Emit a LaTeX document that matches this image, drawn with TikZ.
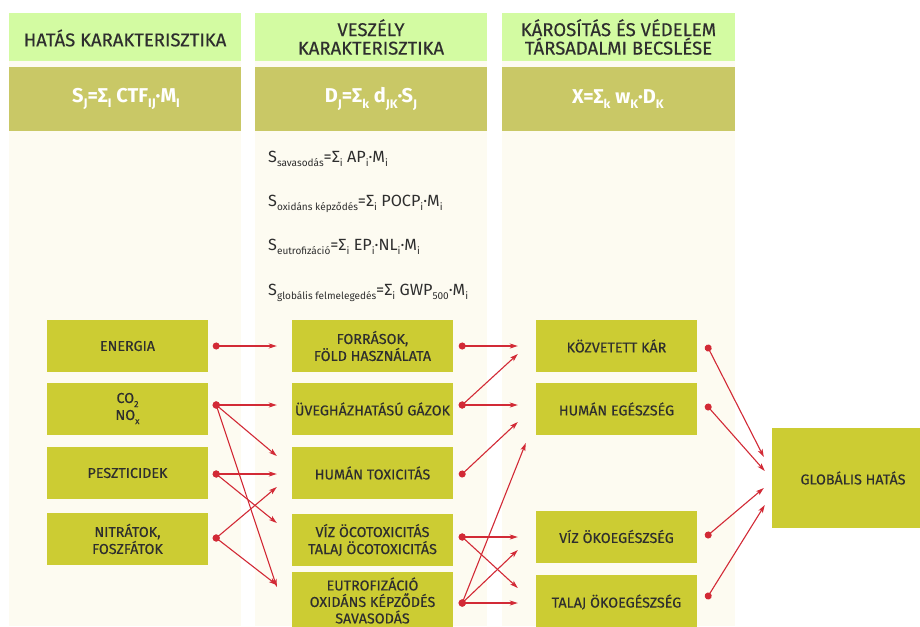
\documentclass[tikz,border=0pt]{standalone}
\usepackage{fontspec}
\setmainfont{Fira Sans}
\newfontfamily\labelfont{Fira Sans}[FakeBold=0.35]
\usetikzlibrary{arrows.meta}

\definecolor{cream}{HTML}{FDFBF1}
\definecolor{headgreen}{HTML}{D3FBA2}
\definecolor{formbox}{HTML}{C9C866}
\definecolor{boxolive}{HTML}{CCCC33}
\definecolor{arrowred}{HTML}{D22A36}
\definecolor{txt}{HTML}{2E2E2E}

% lowered, reduced index text
\newcommand\mysub[1]{\raisebox{-0.55ex}{\scalebox{0.62}{#1}}}

\tikzset{
  colbg/.style={fill=cream, draw=none},
  headbox/.style={fill=headgreen, draw=none},
  formulabox/.style={fill=formbox, draw=none},
  headtext/.style={text=txt, align=center, font=\labelfont\fontsize{18.5}{18.5}\selectfont},
  formulatext/.style={text=white, font=\bfseries\fontsize{20}{22}\selectfont},
  flow/.style={fill=boxolive, draw=none, minimum width=161pt, minimum height=52pt,
    text=txt, align=center, inner sep=0pt, font=\labelfont\fontsize{14.3}{17}\selectfont},
  % the dot is centred on the start point of each connector
  conn/.style={draw=arrowred, line width=1.1pt, shorten <=-3.5pt,
    {Circle[length=7pt]}-{Stealth[length=8pt,width=5pt,inset=2pt]}},
  eqline/.style={anchor=base west, text=txt, inner sep=0pt, font=\fontsize{16.2}{18}\selectfont},
}

\begin{document}
\begin{tikzpicture}[x=1pt,y=-1pt]
\useasboundingbox (0,0) rectangle (920,626);
\fill[white] (0,0) rectangle (920,626);

% three column backgrounds
\fill[colbg] (9,13) rectangle (241,626);
\fill[colbg] (255,13) rectangle (487,626);
\fill[colbg] (502,13) rectangle (735,626);

% column headings
\fill[headbox] (9,13) rectangle (241,61);
\fill[headbox] (255,13) rectangle (487,61);
\fill[headbox] (502,13) rectangle (735,61);
\node[headtext] (h1) at (125,38) {HATÁS KARAKTERISZTIKA};
\node[headtext] (h2) at (371,37) {VESZÉLY\\KARAKTERISZTIKA};
\node[headtext] (h3) at (618.5,37) {KÁROSÍTÁS ÉS VÉDELEM\\TÁRSADALMI BECSLÉSE};

% formula bars
\fill[formulabox] (9,67) rectangle (241,131);
\fill[formulabox] (255,67) rectangle (487,131);
\fill[formulabox] (502,67) rectangle (735,131);
\node[formulatext] (f1) at (126,99) {S\mysub{J}=Σ\mysub{I} CTF\mysub{IJ}·M\mysub{I}};
\node[formulatext] (f2) at (371,99) {D\mysub{J}=Σ\mysub{k} d\mysub{JK}·S\mysub{J}};
\node[formulatext] (f3) at (618,99) {X=Σ\mysub{k} w\mysub{K}·D\mysub{K}};

% characterisation formulas
\node[eqline] (q1) at (268,162) {S\mysub{savasodás}=Σ\mysub{i} AP\mysub{i}·M\mysub{i}};
\node[eqline] (q2) at (268,206) {S\mysub{oxidáns képződés}=Σ\mysub{i} POCP\mysub{i}·M\mysub{i}};
\node[eqline] (q3) at (268,250) {S\mysub{eutrofizáció}=Σ\mysub{i} EP\mysub{i}·NL\mysub{i}·M\mysub{i}};
\node[eqline] (q4) at (268,295) {S\mysub{globális felmelegedés}=Σ\mysub{i} GWP\mysub{500}·M\mysub{i}};

% emissions
\node[flow] (energia) at (127.5,346) {ENERGIA};
\node[flow] (co2) at (127.5,408.5) {CO\mysub{2}\\NO\mysub{x}};
\node[flow] (peszt) at (127.5,473) {PESZTICIDEK};
\node[flow] (nitrat) at (127.5,539) {NITRÁTOK,\\FOSZFÁTOK};

% impact categories
\node[flow] (forras) at (372.5,346) {FORRÁSOK,\\FÖLD HASZNÁLATA};
\node[flow] (uveg) at (372.5,409) {ÜVEGHÁZHATÁSÚ GÁZOK};
\node[flow] (humtox) at (372.5,473) {HUMÁN TOXICITÁS};
\node[flow] (vizoko) at (372.5,540) {VÍZ ÖCOTOXICITÁS\\TALAJ ÖCOTOXICITÁS};
\node[flow, minimum height=57pt, font=\labelfont\fontsize{14.3}{16.5}\selectfont] (eutro) at (372.5,600.5) {EUTROFIZÁCIÓ\\OXIDÁNS KÉPZŐDÉS\\SAVASODÁS};

% damage categories
\node[flow] (kozvet) at (616.5,346) {KÖZVETETT KÁR};
\node[flow] (humeg) at (616.5,409) {HUMÁN EGÉSZSÉG};
\node[flow] (vizeg) at (616.5,536.5) {VÍZ ÖKOEGÉSZSÉG};
\node[flow, minimum height=54pt] (talaj) at (616.5,602) {TALAJ ÖKOEGÉSZSÉG};

% overall result
\node[flow, minimum width=162pt, minimum height=100pt] (global) at (853,478) {GLOBÁLIS HATÁS};

% emissions -> impact categories
\draw[conn] ([xshift=8pt]energia.east) -- ([xshift=-15pt]forras.west);
\draw[conn] ([xshift=8pt,yshift=3.5pt]co2.east) -- ([xshift=-15pt,yshift=4pt]uveg.west);
\draw[conn] ([xshift=8pt,yshift=3.5pt]co2.east) -- ([xshift=-15pt,yshift=17pt]humtox.west);
\draw[conn] ([xshift=8pt,yshift=3.5pt]co2.east) -- ([xshift=-15pt,yshift=13.5pt]eutro.west);
\draw[conn] ([xshift=8pt,yshift=-1pt]peszt.east) -- ([xshift=-15pt,yshift=-1pt]humtox.west);
\draw[conn] ([xshift=8pt,yshift=-1pt]peszt.east) -- ([xshift=-15pt,yshift=17pt]vizoko.west);
\draw[conn] ([xshift=8pt,yshift=1pt]nitrat.east) -- ([xshift=-15pt,yshift=-14pt]humtox.west);
\draw[conn] ([xshift=8pt,yshift=1pt]nitrat.east) -- ([xshift=-15pt,yshift=15.5pt]eutro.west);

% impact categories -> damage categories
\draw[conn] ([xshift=9pt]forras.east) -- ([xshift=-18pt]kozvet.west);
\draw[conn] ([xshift=9pt,yshift=4pt]uveg.east) -- ([xshift=-18pt,yshift=4pt]humeg.west);
\draw[conn] ([xshift=9pt,yshift=4pt]uveg.east) -- ([xshift=-18pt,yshift=-8pt]kozvet.west);
\draw[conn] ([xshift=9pt,yshift=-1pt]humtox.east) -- ([xshift=-18pt,yshift=-13pt]humeg.west);
\draw[conn] ([xshift=9pt,yshift=3pt]vizoko.east) -- ([xshift=-18pt,yshift=-0.5pt]vizeg.west);
\draw[conn] ([xshift=9pt,yshift=3pt]vizoko.east) -- ([xshift=-18pt,yshift=14pt]talaj.west);
\draw[conn] ([xshift=9pt,yshift=-2.5pt]eutro.east) -- ([xshift=-18pt,yshift=-1pt]talaj.west);
\draw[conn] ([xshift=9pt,yshift=-2.5pt]eutro.east) -- ([xshift=-18pt,yshift=-13.5pt]vizeg.west);
\draw[conn] ([xshift=9pt,yshift=-2.5pt]eutro.east) -- ([xshift=-10pt,yshift=-34pt]humeg.west);

% damage categories -> overall result
\draw[conn] ([xshift=11pt,yshift=-2pt]kozvet.east) -- ([xshift=-8pt,yshift=21pt]global.west);
\draw[conn] ([xshift=11pt,yshift=2pt]humeg.east) -- ([xshift=-7pt,yshift=7pt]global.west);
\draw[conn] ([xshift=11pt,yshift=1.5pt]vizeg.east) -- ([xshift=-8pt,yshift=-10pt]global.west);
\draw[conn] ([xshift=11pt,yshift=6pt]talaj.east) -- ([xshift=-7pt,yshift=-27pt]global.west);
\end{tikzpicture}
\end{document}
